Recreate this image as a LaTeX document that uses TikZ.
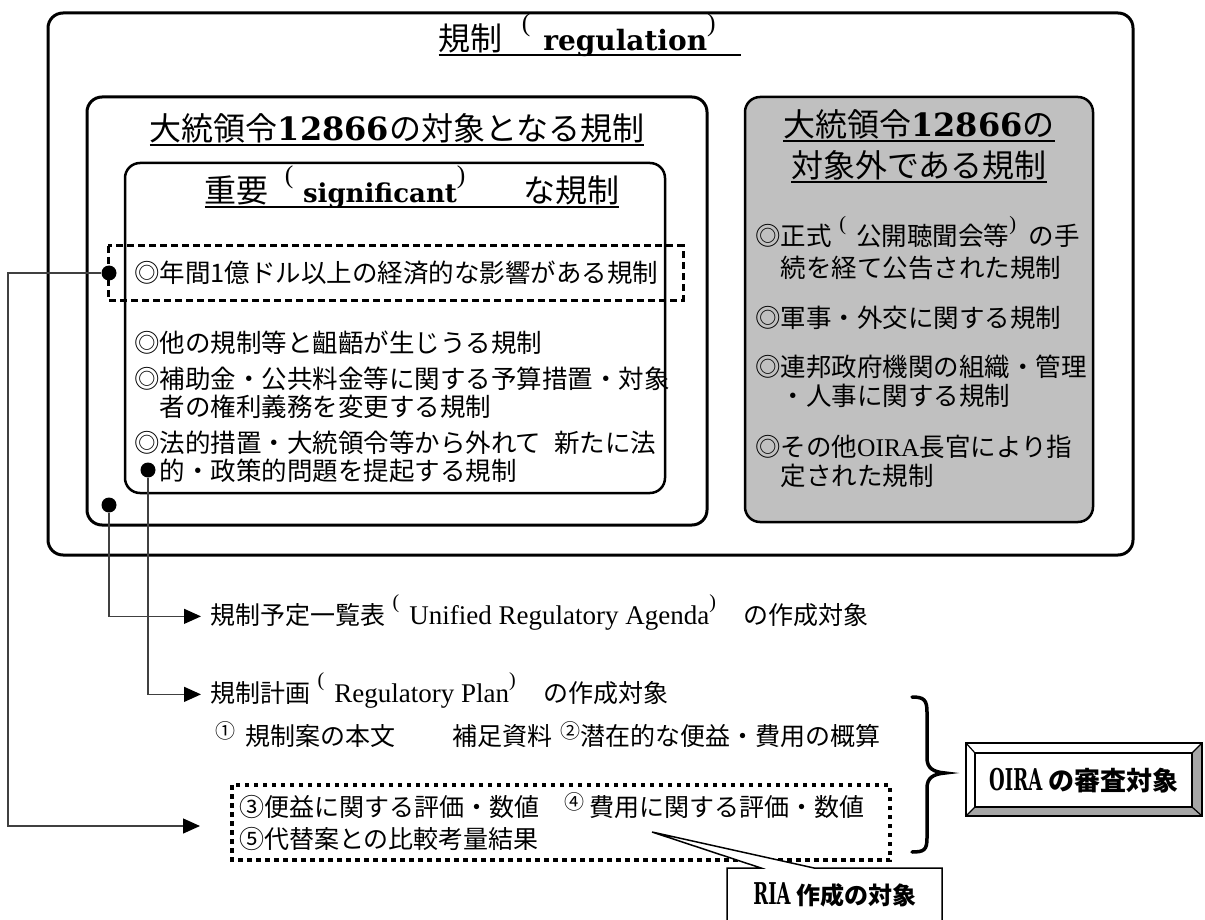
\documentclass[tikz,border=0pt]{standalone}
\usepackage{fontspec}
\setmainfont{Noto Sans CJK JP}
\newfontfamily\bser{DejaVu Serif}
\newfontfamily\lser{Liberation Serif}
\usetikzlibrary{arrows.meta}

\definecolor{panelgray}{HTML}{C0C0C0}
\definecolor{bevelgray}{HTML}{A6A6A6}

\newsavebox\ulsave
\newcommand\ulbox[1]{\sbox\ulsave{#1}\rlap{\rule[-.17em]{\wd\ulsave}{.065em}}\usebox\ulsave}
\newcommand\lpar{\raisebox{.62em}[0pt][0pt]{\scalebox{.8}{\lser(}}}
\newcommand\rpar{\raisebox{.62em}[0pt][0pt]{\scalebox{.8}{\lser)}}}
\newcommand\kakko[1]{\hspace{.3em}\lpar\hspace{.4em}#1\rpar\hspace{.5em}}
\newcommand\upnum[1]{\raisebox{.25em}{\scalebox{.8}{#1}}}
\newcommand\narrowbf[1]{\scalebox{.6}[1]{\bser\bfseries\fontsize{30}{32}\selectfont #1}}

\tikzset{
  boxframe/.style={draw, line width=3pt, rounded corners=15pt},
  headtxt/.style={anchor=base, inner sep=0pt, font=\fontsize{32}{36}\selectfont},
  itemtxt/.style={anchor=base west, inner sep=0pt, font=\fontsize{25.5}{28}\selectfont},
  rowtxt/.style={anchor=base west, inner sep=0pt, font=\fontsize{25}{28}\selectfont},
  bigdot/.style={circle, fill, inner sep=0pt, minimum size=15pt},
  link/.style={draw=black!75, line width=1.3pt},
  arrowhd/.style={-{Triangle[length=17pt,width=15pt,color=black]}, shorten >=9pt},
}

\begin{document}
\begin{tikzpicture}[x=1pt,y=-1pt]
\useasboundingbox (0,0) rectangle (1205,920);

% frames
\draw [boxframe] (48,13) rectangle (1133,555);
\draw [boxframe] (87,97) rectangle (707,525);
\draw [boxframe, line width=2.5pt] (125,163) rectangle (665,493);
\draw [boxframe, line width=2.5pt, fill=panelgray] (745,97) rectangle (1093,522);
\draw [line width=3pt, dash pattern=on 7pt off 4pt] (108,246) rectangle (683,300);
\draw [line width=4.5pt, dash pattern=on 4.5pt off 4.5pt] (232,785) rectangle (890,860);

% headings
\node [headtxt] (ttl) at (590,51)
  {\ulbox{規制\hspace{.6em}\lpar\hspace{.4em}{\bser\bfseries\fontsize{28}{30}\selectfont regulation}\rpar\hspace{.8em}}};
\node [headtxt] (inttl) at (397,141) {\ulbox{大統領令{\bser\bfseries 12866}の対象となる規制}};
\node [headtxt] (sigttl) at (412,203)
  {\ulbox{重要\hspace{.5em}\lpar\hspace{.3em}{\bser\bfseries\fontsize{26}{30}\selectfont significant}\rpar\hspace{1.8em}な規制}};
\node [headtxt] (outttl) at (919,137) {\ulbox{大統領令{\bser\bfseries 12866}の}};
\node [headtxt] (outttlb) at (919,178) {\ulbox{対象外である規制}};

% significant items
\node [itemtxt] (sg1) at (134,283) {◎年間1億ドル以上の経済的な影響がある規制};
\node [itemtxt] (sg2) at (134,352) {◎他の規制等と齟齬が生じうる規制};
\node [itemtxt] (sg3) at (134,388) {◎補助金・公共料金等に関する予算措置・対象};
\node [itemtxt] (sg3b) at (134,416) {\hspace*{1em}者の権利義務を変更する規制};
\node [itemtxt] (sg4) at (134,452) {◎法的措置・大統領令等から外れて\hspace{.5em}新たに法};
\node [itemtxt] (sg4b) at (134,480) {\hspace*{1em}的・政策的問題を提起する規制};

% items outside the order
\node [itemtxt] (ex1) at (755,246) {◎正式\kakko{公開聴聞会等}の手};
\node [itemtxt] (ex1b) at (755,277) {\hspace*{1em}続を経て公告された規制};
\node [itemtxt] (ex2) at (755,327) {◎軍事・外交に関する規制};
\node [itemtxt] (ex3) at (755,376) {◎連邦政府機関の組織・管理};
\node [itemtxt] (ex3b) at (755,405) {\hspace*{1em}・人事に関する規制};
\node [itemtxt] (ex4) at (755,456) {◎その他{\lser OIRA}長官により指};
\node [itemtxt] (ex4b) at (755,485) {\hspace*{1em}定された規制};

% lower rows
\node [rowtxt] (agenda) at (210,624)
  {規制予定一覧表\kakko{{\lser\fontsize{27}{30}\selectfont Unified Regulatory Agenda}}\hspace{.6em}の作成対象};
\node [rowtxt] (plan) at (210,702)
  {規制計画\kakko{{\lser\fontsize{27}{30}\selectfont Regulatory Plan}}\hspace{.6em}の作成対象};
\node [rowtxt] (doc12) at (215,745)
  {\upnum{①}\hspace{.4em}規制案の本文\hspace{2.3em}補足資料\hspace{.3em}\upnum{②}潜在的な便益・費用の概算};
\node [rowtxt] (doc34) at (239,816)
  {③便益に関する評価・数値\hspace{1em}\upnum{④}\hspace{.2em}費用に関する評価・数値};
\node [rowtxt] (doc5) at (239,848) {⑤代替案との比較考量結果};

% dots and connectors
\coordinate (lft) at (8,0);
\coordinate (endA) at (209,826);
\node [bigdot] (dA) at (109,273) {};
\node [bigdot] (dB) at (148,470) {};
\node [bigdot] (dC) at (109,505) {};
\draw [link, arrowhd] (dC) |- (agenda.west);
\draw [link, arrowhd] (dB) |- (plan.west);
\draw [link, arrowhd] (dA) -- (dA -| lft) |- (endA);

% brace
\draw [line width=3.5pt, line cap=round]
  (912,697) .. controls (924,697) and (927,700) .. (927,712) -- (927,758)
  .. controls (927,768) and (933,772) .. (945,773)
  .. controls (933,774) and (927,778) .. (927,788) -- (927,838)
  .. controls (927,850) and (924,852) .. (912,852);

% OIRA box with bevel
\fill [white] (966,743) rectangle (1202,816);
\fill [bevelgray] (1192,753) -- (1202,743) -- (1202,816) -- (1192,807) -- cycle;
\fill [bevelgray] (975,807) -- (1192,807) -- (1202,816) -- (966,816) -- cycle;
\draw [line width=1.2pt] (975,753) rectangle (1192,807);
\draw [line width=1.2pt] (966,743) -- (975,753) (1202,743) -- (1192,753)
  (966,816) -- (975,807) (1202,816) -- (1192,807);
\draw [line width=1.8pt] (966,743) rectangle (1202,816);
\node [font=\fontsize{26}{30}\selectfont\bfseries] (oira) at (1084,781)
  {\narrowbf{OIRA}\hspace{.25em}の審査対象};

% RIA callout
\draw [line width=1.5pt, fill=white] (727,920) -- (727,868) -- (761,868) -- (652,832)
  -- (814,868) -- (942,868) -- (942,920);
\node [font=\fontsize{24}{28}\selectfont\bfseries] (ria) at (835,895)
  {\narrowbf{RIA}\hspace{.25em}作成の対象};
\end{tikzpicture}
\end{document}
